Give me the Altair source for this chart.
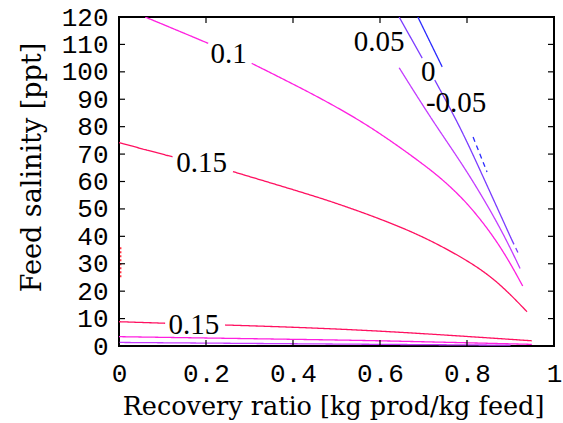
import altair as alt
import pandas as pd

# ---- contour segments (x = recovery ratio, y = feed salinity) ----
# level 0.15 (upper branch)
c015a_x = [0.0, 0.06, 0.123]
c015a_y = [74.2, 71.6, 69.0]
c015b_x = [0.262, 0.416, 0.5, 0.607, 0.7, 0.8, 0.87, 0.938]
c015b_y = [63.6, 56.3, 52.1, 46.0, 39.9, 31.4, 23.7, 12.5]
# level 0.15 (lower branch)
c015c_x = [0.0, 0.106]
c015c_y = [8.86, 8.3]
c015d_x = [0.244, 0.416, 0.6, 0.8, 0.949]
c015d_y = [7.66, 6.8, 5.5, 3.5, 1.9]
# level 0.1
c010a_x = [0.06, 0.13, 0.205]
c010a_y = [120.0, 115.4, 110.4]
c010b_x = [0.305, 0.416, 0.493, 0.569, 0.646, 0.703, 0.734, 0.799, 0.876, 0.928]
c010b_y = [103.1, 94.3, 87.8, 80.8, 72.5, 65.8, 62.0, 52.8, 37.0, 21.9]
c010c_x = [0.0, 0.416, 0.6, 0.949]
c010c_y = [3.4, 2.4, 1.95, 0.6]
# level 0.05
c005a_x = [0.644, 0.723, 0.799, 0.876, 0.922]
c005a_y = [101.5, 81.5, 64.2, 43.5, 28.3]
c005b_x = [0.0, 0.416, 0.6, 0.9]
c005b_y = [1.3, 0.8, 0.6, 0.3]
# level 0
c000a_x = [0.644, 0.697]
c000a_y = [120.0, 105.0]
c000b_x = [0.726, 0.784, 0.83, 0.903]
c000b_y = [97.0, 80.0, 64.2, 38.7]
c000c_x = [0.903, 0.918]
c000c_y = [38.7, 33.8]
# level -0.05
cm05a_x = [0.687, 0.743]
cm05a_y = [120.0, 101.8]
cm05b_x = [0.814, 0.846]
cm05b_y = [76.2, 63.5]
# small fragment at left edge (level 0.2)
c020a_x = [0.004, 0.004]
c020a_y = [36.0, 25.0]

segments = [
    ("0.15", "solid", c015a_x, c015a_y),
    ("0.15", "solid", c015b_x, c015b_y),
    ("0.15", "solid", c015c_x, c015c_y),
    ("0.15", "solid", c015d_x, c015d_y),
    ("0.1", "solid", c010a_x, c010a_y),
    ("0.1", "solid", c010b_x, c010b_y),
    ("0.1", "solid", c010c_x, c010c_y),
    ("0.05", "solid", c005a_x, c005a_y),
    ("0.05", "solid", c005b_x, c005b_y),
    ("0", "solid", c000a_x, c000a_y),
    ("0", "solid", c000b_x, c000b_y),
    ("0", "dashed", c000c_x, c000c_y),
    ("-0.05", "solid", cm05a_x, cm05a_y),
    ("-0.05", "dashed", cm05b_x, cm05b_y),
    ("0.2", "dotted", c020a_x, c020a_y),
]

levels = ["-0.05", "0", "0.05", "0.1", "0.15", "0.2"]
level_colors = ["#2B2BFF", "#7B3CFF", "#C43CFF", "#FF1FE0", "#FF1060", "#FF2030"]

# contour labels
label_text = ["0.1", "0.15", "0.15", "0.05", "0", "-0.05"]
label_x = [0.252, 0.19, 0.172, 0.598, 0.711, 0.775]
label_y = [106.6, 66.7, 7.66, 110.7, 99.9, 88.8]

x_ticks = [0, 0.2, 0.4, 0.6, 0.8, 1]
y_ticks = [0, 10, 20, 30, 40, 50, 60, 70, 80, 90, 100, 110, 120]

rows = []
for s, (lev, sty, xs, ys) in enumerate(segments):
    for i, (xv, yv) in enumerate(zip(xs, ys)):
        rows.append({"x": xv, "y": yv, "level": lev, "style": sty, "seg": s, "i": i})
df = pd.DataFrame(rows)
labels_df = pd.DataFrame({"t": label_text, "x": label_x, "y": label_y})
xt_df = pd.DataFrame({"v": x_ticks})
yt_df = pd.DataFrame({"v": y_ticks})

W, H = 435, 329
xscale = alt.Scale(domain=[0, 1], nice=False, zero=False)
yscale = alt.Scale(domain=[0, 120], nice=False, zero=False)

xaxis = alt.Axis(values=x_ticks, format="~g", title="Recovery ratio [kg prod/kg feed]",
                 ticks=False, domain=False, grid=False, labelPadding=14,
                 labelFont="Liberation Mono", labelFontSize=26, labelColor="black",
                 titleFont="DejaVu Serif", titleFontSize=25.5, titleFontWeight="normal",
                 titleColor="black", titleX=214, titleY=68, titleBaseline="alphabetic",
                 titleAlign="center", labelFlush=False, labelOverlap=False)
yaxis = alt.Axis(values=y_ticks, title="Feed salinity [ppt]",
                 ticks=False, domain=False, grid=False, labelPadding=11,
                 labelFont="Liberation Mono", labelFontSize=26, labelColor="black",
                 titleFont="DejaVu Serif", titleFontSize=27, titleFontWeight="normal",
                 titleColor="black", titleX=-79, titleY=150, titleAngle=270,
                 titleBaseline="alphabetic", titleAlign="center",
                 labelFlush=False, labelOverlap=False)

lines = alt.Chart(df).mark_line(strokeWidth=1.3, clip=True, interpolate="basis").encode(
    x=alt.X("x:Q", scale=xscale, axis=xaxis),
    y=alt.Y("y:Q", scale=yscale, axis=yaxis),
    color=alt.Color("level:N", scale=alt.Scale(domain=levels, range=level_colors), legend=None),
    strokeDash=alt.StrokeDash("style:N", scale=alt.Scale(domain=["solid", "dashed", "dotted"],
                                                          range=[[1, 0], [5, 4], [2, 2]]), legend=None),
    detail="seg:N",
    order="i:Q",
)

texts = alt.Chart(labels_df).mark_text(font="Liberation Serif", fontSize=29, color="black",
                                       baseline="middle", align="center").encode(
    x=alt.X("x:Q", scale=xscale, axis=xaxis),
    y=alt.Y("y:Q", scale=yscale, axis=yaxis),
    text="t:N",
)

tick_style = dict(color="black", strokeWidth=1.2)
left_ticks = alt.Chart(yt_df).mark_rule(**tick_style).encode(
    y=alt.Y("v:Q", scale=yscale, axis=yaxis), x=alt.value(0), x2=alt.value(6))
right_ticks = alt.Chart(yt_df).mark_rule(**tick_style).encode(
    y=alt.Y("v:Q", scale=yscale, axis=yaxis), x=alt.value(W - 6), x2=alt.value(W))
bottom_ticks = alt.Chart(xt_df).mark_rule(**tick_style).encode(
    x=alt.X("v:Q", scale=xscale, axis=xaxis), y=alt.value(H), y2=alt.value(H - 6))
top_ticks = alt.Chart(xt_df).mark_rule(**tick_style).encode(
    x=alt.X("v:Q", scale=xscale, axis=xaxis), y=alt.value(0), y2=alt.value(6))

chart = alt.layer(lines, texts, left_ticks, right_ticks, bottom_ticks, top_ticks).properties(
    width=W, height=H,
    autosize=alt.AutoSizeParams(type="none"),
    padding={"left": 119, "top": 17, "right": 9, "bottom": 77},
    background="white",
).configure_view(stroke="black", strokeWidth=2)

chart.save("out.html", embed_options={"renderer": "svg", "actions": False})
